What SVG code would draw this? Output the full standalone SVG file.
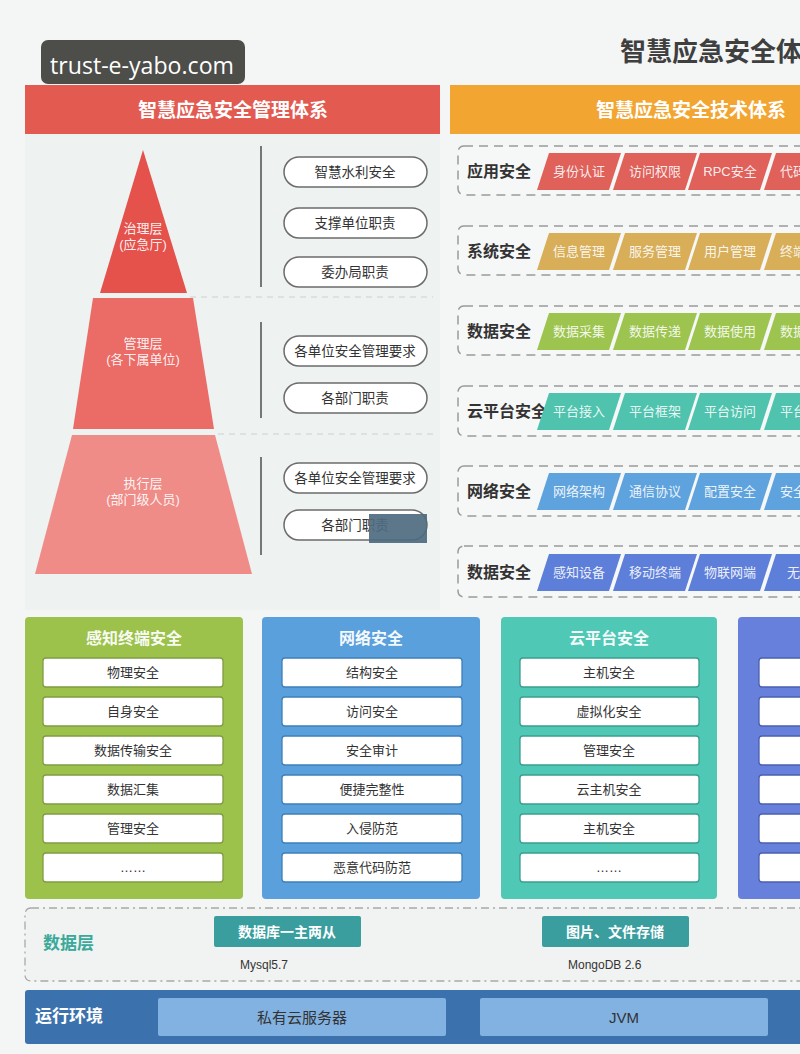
<svg xmlns="http://www.w3.org/2000/svg" xmlns:xlink="http://www.w3.org/1999/xlink" width="800" height="1054" viewBox="0 0 800 1054">
<style>
text{font-family:"Liberation Sans","Noto Sans CJK SC",sans-serif}
.hd{font-size:19px;font-weight:bold;fill:#fff;text-anchor:middle}
.pyr{font-size:13px;fill:#fff;fill-opacity:.92;text-anchor:middle}
.pill rect{fill:#fff;stroke:#6b6b6b;stroke-width:1.5}
.pill text{font-size:13.5px;fill:#333;text-anchor:middle}
.row{fill:#f6f7f7;stroke:#9a9a9a;stroke-width:1.5;stroke-dasharray:9 6}
.rl{font-size:16px;font-weight:bold;fill:#333}
.pt{font-size:13px;fill:#fff;fill-opacity:.9;text-anchor:middle}
.pts{font-size:13px;fill:#fff;fill-opacity:.9}
.bt{font-size:16px;font-weight:bold;fill:#fff;fill-opacity:.95;text-anchor:middle}
.ib{fill:#fff;stroke-width:1.3}
.it{font-size:13px;fill:#333;text-anchor:middle}
.sep{stroke:#d8dcdc;stroke-width:1.5;stroke-dasharray:6 5}
.vl{stroke:#777;stroke-width:2}
</style>
<defs>
<polygon id="pg" points="12,0 84,0 72,37 0,37"/>
</defs>
<rect x="0" y="0" width="800" height="1054" fill="#f4f6f6"/>

<g id="watermark">
<rect x="41" y="40" width="204" height="44" rx="7" fill="#4d4d49"/>
<text x="50" y="74" font-size="24" fill="#fff" textLength="184" lengthAdjust="spacingAndGlyphs" style="font-family:'Open Sans','Liberation Sans',sans-serif">trust-e-yabo.com</text>
</g>

<g id="title">
<text x="620" y="61" font-size="26" font-weight="bold" fill="#3f3f3f">智慧应急安全体</text>
</g>

<g id="mgmt-panel">
<rect x="25" y="133" width="415" height="477" fill="#eef2f1"/>
<rect x="25" y="85" width="415" height="49" fill="#e25a50"/>
<text class="hd" x="233" y="117">智慧应急安全管理体系</text>
</g>

<g id="tech-header">
<rect x="450" y="85" width="360" height="49" fill="#f2a531"/>
<text class="hd" x="691" y="117">智慧应急安全技术体系</text>
</g>

<g id="pyramid">
<g id="layer-govern">
<polygon points="143,150 187,293 100,293" fill="#e5514b"/>
<text class="pyr" x="143" y="233">治理层</text>
<text class="pyr" x="143" y="249">(应急厅)</text>
</g>
<g id="layer-manage">
<polygon points="93,298 193,298 214,429 73,429" fill="#eb6b66"/>
<text class="pyr" x="143" y="348">管理层</text>
<text class="pyr" x="143" y="364">(各下属单位)</text>
</g>
<g id="layer-exec">
<polygon points="72,435 215,435 252,574 35,574" fill="#f08c88"/>
<text class="pyr" x="143" y="488">执行层</text>
<text class="pyr" x="143" y="504">(部门级人员)</text>
</g>
</g>

<g id="connectors">
<line class="sep" x1="190" y1="297" x2="433" y2="297"/>
<line class="sep" x1="218" y1="434" x2="433" y2="434"/>
<line class="vl" x1="261" y1="146" x2="261" y2="287"/>
<line class="vl" x1="261" y1="322" x2="261" y2="418"/>
<line class="vl" x1="261" y1="457" x2="261" y2="555"/>
</g>

<g id="duties">
<g class="pill" id="p1"><rect x="284" y="157" width="143" height="30" rx="15"/><text x="355" y="177">智慧水利安全</text></g>
<g class="pill" id="p2"><rect x="284" y="208" width="143" height="30" rx="15"/><text x="355" y="228">支撑单位职责</text></g>
<g class="pill" id="p3"><rect x="284" y="257" width="143" height="30" rx="15"/><text x="355" y="277">委办局职责</text></g>
<g class="pill" id="p4"><rect x="284" y="336" width="143" height="30" rx="15"/><text x="355" y="356">各单位安全管理要求</text></g>
<g class="pill" id="p5"><rect x="284" y="383" width="143" height="30" rx="15"/><text x="355" y="403">各部门职责</text></g>
<g class="pill" id="p6"><rect x="284" y="463" width="143" height="30" rx="15"/><text x="355" y="483">各单位安全管理要求</text></g>
<g class="pill" id="p7"><rect x="284" y="510" width="143" height="30" rx="15"/><text x="355" y="530">各部门职责</text></g>
<rect x="369" y="514" width="58" height="29" fill="#4e6a80" fill-opacity=".92"/>
</g>

<g id="row-app">
<rect class="row" x="458" y="146" width="380" height="49" rx="6"/>
<text class="rl" x="467" y="177">应用安全</text>
<g fill="#e0605a">
<use xlink:href="#pg" x="537" y="153"/><use xlink:href="#pg" x="613" y="153"/><use xlink:href="#pg" x="688" y="153"/><use xlink:href="#pg" x="764" y="153"/>
</g>
<text class="pt" x="579" y="176">身份认证</text><text class="pt" x="655" y="176">访问权限</text><text class="pt" x="730" y="176">RPC安全</text><text class="pts" x="780" y="176">代码</text>
</g>

<g id="row-sys">
<rect class="row" x="458" y="226" width="380" height="49" rx="6"/>
<text class="rl" x="467" y="257">系统安全</text>
<g fill="#d8ae58">
<use xlink:href="#pg" x="537" y="233"/><use xlink:href="#pg" x="613" y="233"/><use xlink:href="#pg" x="688" y="233"/><use xlink:href="#pg" x="764" y="233"/>
</g>
<text class="pt" x="579" y="256">信息管理</text><text class="pt" x="655" y="256">服务管理</text><text class="pt" x="730" y="256">用户管理</text><text class="pts" x="780" y="256">终端</text>
</g>

<g id="row-data">
<rect class="row" x="458" y="306" width="380" height="49" rx="6"/>
<text class="rl" x="467" y="337">数据安全</text>
<g fill="#9cc44e">
<use xlink:href="#pg" x="537" y="313"/><use xlink:href="#pg" x="613" y="313"/><use xlink:href="#pg" x="688" y="313"/><use xlink:href="#pg" x="764" y="313"/>
</g>
<text class="pt" x="579" y="336">数据采集</text><text class="pt" x="655" y="336">数据传递</text><text class="pt" x="730" y="336">数据使用</text><text class="pts" x="780" y="336">数据</text>
</g>

<g id="row-cloud">
<rect class="row" x="458" y="386" width="380" height="50" rx="6"/>
<text class="rl" x="467" y="417">云平台安全</text>
<g fill="#4fc3ae">
<use xlink:href="#pg" x="537" y="393"/><use xlink:href="#pg" x="613" y="393"/><use xlink:href="#pg" x="688" y="393"/><use xlink:href="#pg" x="764" y="393"/>
</g>
<text class="pt" x="579" y="416">平台接入</text><text class="pt" x="655" y="416">平台框架</text><text class="pt" x="730" y="416">平台访问</text><text class="pts" x="780" y="416">平台</text>
</g>

<g id="row-net">
<rect class="row" x="458" y="466" width="380" height="50" rx="6"/>
<text class="rl" x="467" y="497">网络安全</text>
<g fill="#5ea2de">
<use xlink:href="#pg" x="537" y="473"/><use xlink:href="#pg" x="613" y="473"/><use xlink:href="#pg" x="688" y="473"/><use xlink:href="#pg" x="764" y="473"/>
</g>
<text class="pt" x="579" y="496">网络架构</text><text class="pt" x="655" y="496">通信协议</text><text class="pt" x="730" y="496">配置安全</text><text class="pts" x="780" y="496">安全</text>
</g>

<g id="row-device">
<rect class="row" x="458" y="546" width="380" height="51" rx="6"/>
<text class="rl" x="467" y="578">数据安全</text>
<g fill="#5d7ed9">
<use xlink:href="#pg" x="537" y="554"/><use xlink:href="#pg" x="613" y="554"/><use xlink:href="#pg" x="688" y="554"/><use xlink:href="#pg" x="764" y="554"/>
</g>
<text class="pt" x="579" y="577">感知设备</text><text class="pt" x="655" y="577">移动终端</text><text class="pt" x="730" y="577">物联网端</text><text class="pts" x="787" y="577">无</text>
</g>

<g id="box-terminal">
<rect x="25" y="617" width="218" height="282" rx="4" fill="#9cc24c"/>
<text class="bt" x="134" y="644">感知终端安全</text>
<g class="ib" stroke="#7f9c43">
<rect x="43" y="658" width="180" height="29" rx="3"/><rect x="43" y="697" width="180" height="29" rx="3"/><rect x="43" y="736" width="180" height="29" rx="3"/><rect x="43" y="775" width="180" height="29" rx="3"/><rect x="43" y="814" width="180" height="29" rx="3"/><rect x="43" y="853" width="180" height="29" rx="3"/>
</g>
<text class="it" x="133" y="677">物理安全</text><text class="it" x="133" y="716">自身安全</text><text class="it" x="133" y="755">数据传输安全</text><text class="it" x="133" y="794">数据汇集</text><text class="it" x="133" y="833">管理安全</text><text class="it" x="133" y="872">……</text>
</g>

<g id="box-network">
<rect x="262" y="617" width="218" height="282" rx="4" fill="#5aa0dc"/>
<text class="bt" x="371" y="644">网络安全</text>
<g class="ib" stroke="#3f7fb8">
<rect x="282" y="658" width="180" height="29" rx="3"/><rect x="282" y="697" width="180" height="29" rx="3"/><rect x="282" y="736" width="180" height="29" rx="3"/><rect x="282" y="775" width="180" height="29" rx="3"/><rect x="282" y="814" width="180" height="29" rx="3"/><rect x="282" y="853" width="180" height="29" rx="3"/>
</g>
<text class="it" x="372" y="677">结构安全</text><text class="it" x="372" y="716">访问安全</text><text class="it" x="372" y="755">安全审计</text><text class="it" x="372" y="794">便捷完整性</text><text class="it" x="372" y="833">入侵防范</text><text class="it" x="372" y="872">恶意代码防范</text>
</g>

<g id="box-cloud">
<rect x="501" y="617" width="216" height="282" rx="4" fill="#4fc8b5"/>
<text class="bt" x="609" y="644">云平台安全</text>
<g class="ib" stroke="#3a9e8f">
<rect x="520" y="658" width="179" height="29" rx="3"/><rect x="520" y="697" width="179" height="29" rx="3"/><rect x="520" y="736" width="179" height="29" rx="3"/><rect x="520" y="775" width="179" height="29" rx="3"/><rect x="520" y="814" width="179" height="29" rx="3"/><rect x="520" y="853" width="179" height="29" rx="3"/>
</g>
<text class="it" x="609" y="677">主机安全</text><text class="it" x="609" y="716">虚拟化安全</text><text class="it" x="609" y="755">管理安全</text><text class="it" x="609" y="794">云主机安全</text><text class="it" x="609" y="833">主机安全</text><text class="it" x="609" y="872">……</text>
</g>

<g id="box-fourth">
<rect x="738" y="617" width="100" height="282" rx="4" fill="#6680dc"/>
<g class="ib" stroke="#4a5fae">
<rect x="759" y="658" width="180" height="29" rx="3"/><rect x="759" y="697" width="180" height="29" rx="3"/><rect x="759" y="736" width="180" height="29" rx="3"/><rect x="759" y="775" width="180" height="29" rx="3"/><rect x="759" y="814" width="180" height="29" rx="3"/><rect x="759" y="853" width="180" height="29" rx="3"/>
</g>
</g>

<g id="data-layer">
<rect x="25" y="908" width="800" height="73" rx="6" fill="#f1f3f3" stroke="#a9a9a9" stroke-width="1.3" stroke-dasharray="8 4 2 4"/>
<text x="43" y="949" font-size="17" font-weight="bold" fill="#3aa99a">数据层</text>
<g id="db-mysql">
<rect x="214" y="916" width="147" height="31" rx="2" fill="#3a9e9f"/>
<text x="287" y="937" font-size="14" font-weight="bold" fill="#fff" text-anchor="middle">数据库一主两从</text>
<text x="240" y="969" font-size="12" fill="#333">Mysql5.7</text>
</g>
<g id="db-mongo">
<rect x="542" y="916" width="147" height="31" rx="2" fill="#3a9e9f"/>
<text x="615" y="937" font-size="14" font-weight="bold" fill="#fff" text-anchor="middle">图片、文件存储</text>
<text x="568" y="969" font-size="12" fill="#333">MongoDB 2.6</text>
</g>
</g>

<g id="runtime">
<rect x="25" y="990" width="800" height="54" rx="3" fill="#3b72ae"/>
<text x="35" y="1022" font-size="17" font-weight="bold" fill="#fff">运行环境</text>
<g id="rt-cloud">
<rect x="158" y="998" width="288" height="38" rx="2" fill="#82b2e2"/>
<text x="302" y="1023" font-size="15" fill="#333" text-anchor="middle">私有云服务器</text>
</g>
<g id="rt-jvm">
<rect x="480" y="998" width="288" height="38" rx="2" fill="#82b2e2"/>
<text x="624" y="1023" font-size="15" fill="#333" text-anchor="middle">JVM</text>
</g>
</g>
</svg>
